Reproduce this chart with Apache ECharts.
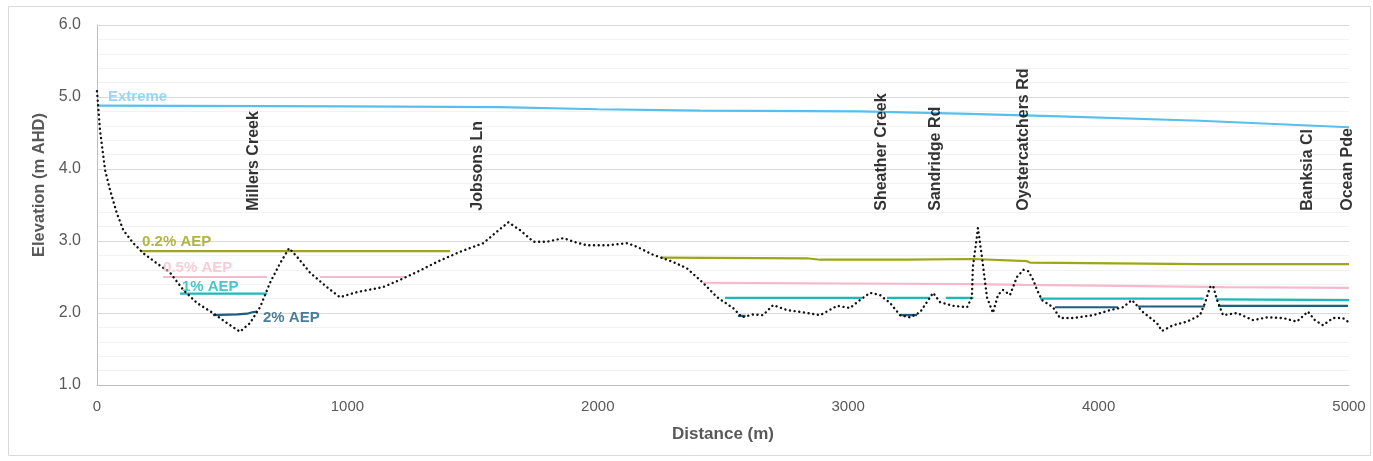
<!DOCTYPE html>
<html><head><meta charset="utf-8">
<script src="https://cdn.jsdelivr.net/npm/echarts@6/dist/echarts.min.js"></script>
<style>html,body{margin:0;padding:0;background:#fff}#c{width:1373px;height:461px}</style>
</head><body><div id="c"></div>
<script>
// ---------- DATA ----------
const xTicks = [0, 1000, 2000, 3000, 4000, 5000];
const yTicks = [1, 2, 3, 4, 5, 6];

const terrainX = [0,12,32,52,79,105,145,185,239,292,345,399,463,519,571,611,651,691,731,767,799,851,918,970,1038,1142,1210,1278,1358,1450,1543,1597,1643,1690,1743,1797,1863,1903,1957,2037,2117,2156,2220,2300,2356,2420,2476,2540,2576,2620,2660,2700,2756,2820,2888,2956,3007,3047,3087,3127,3167,3207,3247,3287,3339,3367,3419,3475,3494,3498,3514,3518,3534,3554,3578,3598,3618,3646,3674,3700,3720,3740,3754,3774,3818,3846,3898,3978,4046,4098,4133,4178,4233,4253,4297,4353,4405,4425,4445,4457,4473,4497,4553,4617,4673,4737,4792,4836,4864,4896,4936,4976,5000];
const terrainY = [5.08,4.54,3.99,3.71,3.39,3.15,2.97,2.83,2.69,2.56,2.32,2.14,2.00,1.86,1.74,1.86,2.08,2.42,2.69,2.90,2.78,2.56,2.36,2.22,2.29,2.36,2.46,2.57,2.71,2.85,2.97,3.13,3.26,3.15,2.99,2.99,3.04,2.99,2.94,2.94,2.97,2.92,2.81,2.71,2.62,2.42,2.22,2.07,1.94,1.98,1.97,2.11,2.04,2.01,1.97,2.10,2.07,2.18,2.28,2.25,2.14,1.97,1.94,2.01,2.28,2.15,2.10,2.08,2.22,2.64,3.06,3.18,2.78,2.22,2.00,2.25,2.32,2.25,2.50,2.60,2.58,2.45,2.32,2.18,2.08,1.93,1.93,1.97,2.04,2.08,2.18,2.01,1.86,1.75,1.83,1.88,1.97,2.14,2.36,2.38,2.18,1.97,2.00,1.90,1.94,1.93,1.88,2.02,1.90,1.83,1.93,1.93,1.87];

const extremeX = [0, 1000, 1609, 2000, 2408, 3047, 3446, 3846, 4405, 5000];
const extremeY = [4.88, 4.87, 4.86, 4.83, 4.81, 4.80, 4.77, 4.73, 4.67, 4.58];

const aep02X = [172, 1410, 1420, 2255, 2835, 2888, 3235, 3498, 3714, 3726, 4073, 4405, 5000];
const aep02Y = [2.86, 2.86, null, 2.77, 2.76, 2.74, 2.74, 2.75, 2.72, 2.70, 2.69, 2.68, 2.68];

const aep05X = [264, 679, 780, 891, 1230, 1300, 2420, 3000, 3500, 3700, 4000, 4500, 5000];
const aep05Y = [2.50, 2.50, null, 2.50, 2.50, null, 2.42, 2.41, 2.40, 2.39, 2.38, 2.36, 2.35];

const aep1X = [331, 679, 700, 2508, 3055, 3100, 3155, 3327, 3350, 3390, 3500, 3550, 3766, 4420, 4445, 4470, 5000];
const aep1Y = [2.27, 2.27, null, 2.21, 2.21, null, 2.21, 2.21, null, 2.21, 2.21, null, 2.20, 2.20, null, 2.19, 2.18];

const aep2X = [463, 560, 600, 620, 639, 700, 2560, 2590, 2600, 3207, 3275, 3300, 3826, 4077, 4100, 4157, 4425, 4450, 4477, 4996];
const aep2Y = [1.97, 1.98, 1.99, 2.01, 2.02, null, 1.96, 1.96, null, 1.97, 1.97, null, 2.08, 2.08, null, 2.09, 2.09, null, 2.10, 2.10];

const seriesNames = ['Extreme', '0.2% AEP', '0.5% AEP', '1% AEP', '2% AEP'];

const locNames = ['Millers Creek', 'Jobsons Ln', 'Sheather Creek', 'Sandridge Rd', 'Oystercatchers Rd', 'Banksia Cl', 'Ocean Pde'];
const locX = [627, 1521, 3135, 3351, 3702, 4836, 4996];

// ---------- STYLE ----------
const FONT = 'Liberation Sans, Arial, sans-serif';
const colors = ['#58BFEC', '#9CA51B', '#F5B9CB', '#1DB7BC', '#1E5E80'];
const labelColors = ['#7CCDF0', '#9CA51B', '#F7BFD0', '#1DB7BC', '#1E5E80'];
const LOC_BASE = 3.42;

function pairs(xs, ys) { return xs.map((x, i) => [x, ys[i]]); }
const lineSets = [[extremeX, extremeY], [aep02X, aep02Y], [aep05X, aep05Y], [aep1X, aep1Y], [aep2X, aep2Y]];

const lineSeries = lineSets.map((s, i) => ({
  name: seriesNames[i], type: 'line', data: pairs(s[0], s[1]),
  showSymbol: false, symbol: 'none', connectNulls: false, silent: true,
  lineStyle: { color: colors[i], width: 2.2 }, z: 3
}));

// label anchors: start of each series (2% AEP: end of its first run)
const anchorIdx = [0, 0, 0, 0, 4];
const labelOffsets = [[11, -9], [2, -9], [0, -9], [2, -7], [6, 6]];
const nameLabelData = lineSets.map((s, i) => ({
  value: [s[0][anchorIdx[i]], s[1][anchorIdx[i]]],
  label: { show: true, formatter: seriesNames[i], color: labelColors[i], offset: labelOffsets[i] }
}));

const option = {
  animation: false,
  backgroundColor: '#fff',
  textStyle: { fontFamily: FONT },
  graphic: [{ type: 'rect', shape: { x: 8.5, y: 6.5, width: 1362, height: 449 }, style: { fill: 'none', stroke: '#D9D9D9', lineWidth: 1 }, silent: true }],
  grid: { left: 97, right: 24, top: 25, bottom: 76, containLabel: false },
  xAxis: {
    type: 'value', min: xTicks[0], max: xTicks[xTicks.length - 1], interval: 1000,
    name: 'Distance (m)', nameLocation: 'middle', nameGap: 41,
    nameTextStyle: { color: '#595959', fontSize: 17, fontWeight: 'bold', fontFamily: FONT },
    axisLine: { show: true, lineStyle: { color: '#BFBFBF', width: 1 } },
    axisTick: { show: false },
    axisLabel: { color: '#595959', fontSize: 15, margin: 14, fontFamily: FONT, formatter: v => String(v) },
    splitLine: { show: false }
  },
  yAxis: {
    type: 'value', min: yTicks[0], max: yTicks[yTicks.length - 1], interval: 1,
    name: 'Elevation (m AHD)', nameLocation: 'middle', nameGap: 44,
    nameTextStyle: { color: '#595959', fontSize: 16.5, fontWeight: 'bold', fontFamily: FONT, padding: [0, 0, 0, 40] },
    axisLine: { show: true, lineStyle: { color: '#BFBFBF', width: 1 } },
    axisTick: { show: false },
    axisLabel: { color: '#595959', fontSize: 16, margin: 16, fontFamily: FONT, formatter: v => v.toFixed(1) },
    splitLine: { show: true, lineStyle: { color: '#D9D9D9', width: 1 } },
    minorTick: { show: false, splitNumber: 5 },
    minorSplitLine: { show: true, lineStyle: { color: '#F2F2F2', width: 1 } }
  },
  series: [
    ...lineSeries,
    {
      name: 'Terrain', type: 'line', data: pairs(terrainX, terrainY),
      showSymbol: false, symbol: 'none', silent: true, z: 4,
      lineStyle: { color: '#111', width: 2.4, type: [0.1, 4.6], cap: 'round' }
    },
    {
      name: 'seriesLabels', type: 'scatter', data: nameLabelData, symbolSize: 1, silent: true, z: 5,
      itemStyle: { color: 'rgba(0,0,0,0)' },
      label: { show: true, position: 'inside', align: 'left', verticalAlign: 'middle', fontSize: 15, fontWeight: 'bold', fontFamily: FONT }
    },
    {
      name: 'locations', type: 'scatter', data: locX.map((x, i) => ({ value: [x, LOC_BASE], name: locNames[i] })),
      symbolSize: 1, silent: true, z: 5,
      itemStyle: { color: 'rgba(0,0,0,0)' },
      label: { show: true, position: 'inside', rotate: 90, align: 'left', verticalAlign: 'middle', formatter: p => p.name,
        color: '#000', fontSize: 16, fontWeight: 'bold', fontFamily: FONT }
    }
  ]
};
echarts.init(document.getElementById('c'), null, { renderer: 'canvas' }).setOption(option);
</script>
</body></html>
